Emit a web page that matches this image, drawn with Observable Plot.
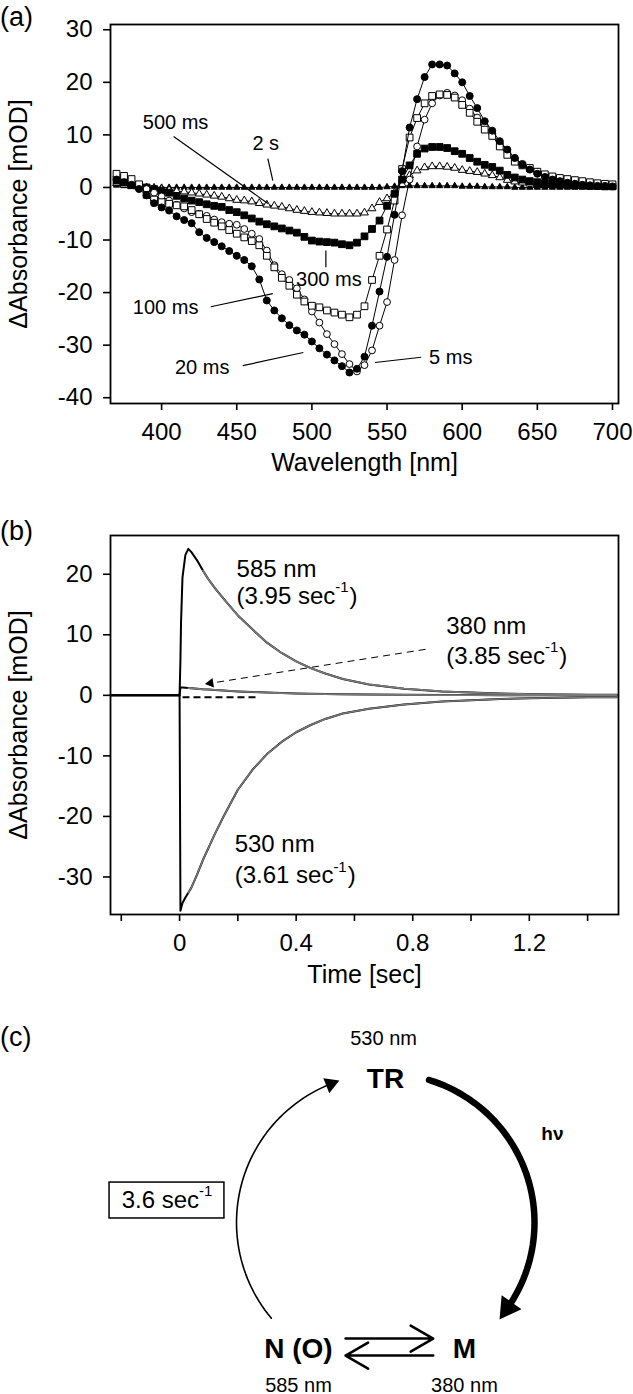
<!DOCTYPE html>
<html><head><meta charset="utf-8">
<script src="https://cdn.jsdelivr.net/npm/d3@7"></script>
<script src="https://cdn.jsdelivr.net/npm/@observablehq/plot@0.6"></script>
<style>
body{margin:0;background:#fff;width:633px;height:1394px;position:relative;overflow:hidden;font-family:"Liberation Sans",Arial,Helvetica,sans-serif;}
.panel{position:absolute;left:0;z-index:1;}
.tag{position:absolute;left:0px;font-size:27px;line-height:27px;z-index:5;}
</style></head><body>
<div id="pa" class="panel" style="top:0px"></div>
<div id="pb" class="panel" style="top:500px"></div>
<div id="pc" class="panel" style="top:1000px"></div>
<div class="tag" style="top:4px">(a)</div>
<div class="tag" style="top:518px">(b)</div>
<div class="tag" style="top:1024px">(c)</div>
<script>
// ---------- Panel (a) data: transient difference spectra ----------
const wavelengths = [370,375,380,385,390,395,400,405,410,415,420,425,430,435,440,445,450,455,460,465,470,475,480,485,490,495,500,505,510,515,520,525,530,535,540,545,550,555,560,565,570,575,580,585,590,595,600,605,610,615,620,625,630,635,640,645,650,655,660,665,670,675,680,685,690,695,700];
const dA_5ms = [2.0,1.6,1.0,0.4,-0.3,-1.0,-1.7,-2.5,-3.3,-4.0,-4.7,-5.0,-5.4,-6.1,-6.6,-6.9,-7.1,-7.9,-8.8,-9.8,-12.0,-14.8,-16.5,-17.6,-19.2,-21.3,-23.6,-25.7,-27.9,-29.8,-31.7,-33.6,-35.0,-33.8,-31.0,-26.3,-21.8,-13.8,-5.3,1.5,7.8,12.9,16.0,17.5,18.0,17.5,16.6,15.0,13.3,11.8,10.2,8.5,7.0,5.6,4.5,3.6,2.9,2.3,1.9,1.5,1.2,1.0,0.8,0.6,0.5,0.4,0.3];
const dA_20ms = [1.5,1.0,0.5,-0.3,-1.5,-3.0,-3.8,-4.4,-5.5,-6.2,-6.8,-8.5,-9.6,-10.4,-11.2,-12.1,-13.0,-13.8,-15.0,-17.5,-21.5,-23.4,-24.9,-26.2,-27.2,-28.0,-29.3,-30.6,-31.8,-32.9,-34.0,-35.2,-34.5,-32.2,-26.3,-19.8,-13.2,-5.2,3.1,11.4,16.8,21.0,23.4,23.4,23.2,21.7,20.0,17.4,15.1,12.6,10.8,8.8,7.2,5.6,4.3,3.4,2.6,2.0,1.5,1.2,0.9,0.7,0.5,0.4,0.3,0.3,0.2];
const dA_100ms = [2.6,2.2,1.6,0.6,-1.4,-2.3,-2.8,-3.1,-3.4,-3.6,-4.3,-5.1,-6.0,-6.7,-7.4,-8.1,-8.8,-9.5,-10.2,-11.0,-13.0,-15.2,-17.2,-18.7,-20.4,-21.7,-22.5,-22.8,-23.4,-23.8,-24.2,-24.7,-24.2,-22.6,-17.6,-13.0,-8.0,-2.5,3.5,9.5,13.2,16.0,17.4,17.7,17.6,17.1,15.7,14.2,12.5,11.0,9.8,7.8,6.2,4.9,4.2,3.7,3.0,2.5,2.1,1.8,1.6,1.4,1.2,1.0,0.8,0.7,0.6];
const dA_300ms = [1.3,1.0,0.5,0.2,0.0,-0.3,-0.6,-1.0,-1.6,-2.1,-2.5,-2.8,-3.2,-3.5,-3.7,-4.3,-4.7,-5.3,-5.9,-6.5,-7.0,-7.4,-7.8,-8.2,-8.6,-9.4,-10.1,-10.3,-10.4,-10.5,-10.8,-11.0,-10.5,-9.3,-7.9,-6.3,-3.5,-1.2,1.5,4.2,6.4,7.4,7.7,7.7,7.5,6.9,6.4,5.6,4.9,4.3,3.9,3.2,2.4,1.9,1.5,1.2,1.0,0.8,0.7,0.6,0.5,0.4,0.4,0.3,0.3,0.2,0.2];
const dA_500ms = [0.8,0.5,0.2,0.0,0.0,-0.1,-0.3,-0.5,-0.7,-0.8,-1.0,-1.2,-1.4,-1.6,-1.8,-2.1,-2.4,-2.5,-2.7,-3.0,-3.3,-3.5,-3.7,-4.0,-4.3,-4.5,-4.7,-4.8,-4.9,-5.0,-5.0,-5.0,-5.0,-4.8,-4.0,-2.8,-2.1,-1.0,0.6,2.3,3.2,3.8,4.0,4.0,3.9,3.7,3.3,3.1,2.9,2.6,2.3,1.9,1.4,1.1,0.9,0.7,0.6,0.5,0.4,0.35,0.3,0.3,0.25,0.2,0.2,0.2,0.2];
const dA_2s = [0.4,0.3,0.2,0.1,0,0,0,0,0,0,0,0,0,0,0,0,0,0,0,0,0,0,0,0,0,0,0,0,0,0,0,0,0,0,0,0,0.1,0.2,0.3,0.3,0.3,0.3,0.3,0.3,0.3,0.3,0.2,0.2,0.2,0.1,0.1,0.1,0.1,0,0,0,0,0,0,0,0,0,0,0,0,0,0];
const seriesNames = ["2 s","500 ms","300 ms","5 ms","100 ms","20 ms"];
const seriesValues = [dA_2s, dA_500ms, dA_300ms, dA_5ms, dA_100ms, dA_20ms];
const xTicksA = [400,450,500,550,600,650,700];
const yTicksA = [-40,-30,-20,-10,0,10,20,30];
// annotation labels of panel (a)
const annLabels = ["500 ms","2 s","300 ms","100 ms","20 ms","5 ms"];
const annTextX = [409.3,469.3,511.3,402.7,427,592.4];
const annTextY = [12.4,8.4,-17.5,-22.9,-34.2,-32.3];
const annX1 = [408,470.7,509.3,432.7,454,542];
const annY1 = [9.7,5.5,-12.0,-22.7,-33.9,-33.3];
const annX2 = [470.7,474,509.3,474,494.3,572.7];
const annY2 = [-3.05,1.3,-15.2,-20.2,-31.4,-32.3];

// ---------- Panel (b) data: kinetic traces ----------
const timeSec = [-0.237,-0.2,-0.15,-0.1,-0.05,0,0.003,0.005,0.01,0.02,0.03,0.04,0.06,0.08,0.1,0.12,0.15,0.2,0.25,0.3,0.35,0.4,0.45,0.5,0.56,0.65,0.77,0.9,1.0,1.1,1.2,1.3,1.4,1.5];
const trace585 = [0,0,0,0,0,0,6,12,19.5,23.2,24.2,23.7,22.3,20.6,19.1,17.8,16.0,13.2,10.9,8.7,7.0,5.6,4.5,3.6,2.7,1.8,1.1,0.65,0.45,0.3,0.2,0.15,0.1,0.1];
const trace530 = [0,0,0,0,0,0,-35.6,-35.2,-34.3,-33.4,-32.6,-31.8,-29.6,-27.2,-25.1,-23.0,-20.1,-15.6,-12.3,-9.7,-7.7,-6.1,-4.9,-3.9,-3.0,-2.2,-1.5,-1.0,-0.8,-0.6,-0.5,-0.4,-0.3,-0.3];
const trace380 = [0,0,0,0,0,0,1.3,1.3,1.3,1.25,1.2,1.15,1.1,1.0,0.95,0.9,0.8,0.65,0.55,0.45,0.37,0.3,0.25,0.2,0.16,0.12,0.08,0.05,0.04,0.03,0.03,0.02,0.02,0.02];
const fitStartIndex = 10;
const xTicksB = [-0.2,0,0.2,0.4,0.6,0.8,1.0,1.2,1.4];
const xLabeledB = [0,0.4,0.8,1.2];
const yTicksB = [-30,-20,-10,0,10,20];
const traceLabels = ["585 nm","380 nm","530 nm"];
const traceRates = ["(3.95 sec","(3.85 sec","(3.61 sec"];
const traceLabelX = [0.1955,0.915,0.189];
const traceLabelY = [20.8,11.4,-24.6];
const traceRateY = [16.4,6.4,-29.8];
const dashBase = {x1:0.01, x2:0.27, y:-0.3};
const arrow380 = {x1:0.844, y1:7.6, x2:0.106, y2:2.0};

// ---------- Panel (c) data: photocycle scheme ----------
const stateNames = ["TR","M","N (O)"];
const stateX = [0,0.53,-0.584];
const stateY = [0.966,-0.846,-0.846];
const stateWl = ["530 nm","380 nm","585 nm"];
const stateWlX = [-0.013,0.53,-0.584];
const stateWlY = [1.235,-1.094,-1.094];
const arcStart = [-130,17];
const arcLineEnd = [-23.4,122.3];
const arcHead = [-21.6,125];
const rateText = "3.6 sec";
const rateBox = {x1:-1.852, x2:-1.081, y1:0.027, y2:0.268};
const hvPos = {x:1.12, y:0.597};
const eqX1 = [-0.268,0.32];
const eqX2 = [0.32,-0.268];
const eqY = [-0.779,-0.893];

// ---------- helpers ----------
const FONT = '"Liberation Sans", Arial, Helvetica, sans-serif';
const ctx = document.createElement("canvas").getContext("2d");
function tw(s, size, weight) { ctx.font = `${weight||"normal"} ${size}px ${FONT}`; return ctx.measureText(s).width; }
const baseStyle = {fontFamily: FONT, fontSize: "24px", color: "black", background: "transparent", overflow: "visible"};

// ---------- Panel (a) ----------
{
  const symbols = {"2 s":"triangle","500 ms":"triangle","300 ms":"square","5 ms":"circle","100 ms":"square","20 ms":"circle"};
  const fills = {"2 s":"black","500 ms":"white","300 ms":"black","5 ms":"white","100 ms":"white","20 ms":"black"};
  const radii = {"2 s":2.3,"500 ms":2.9,"300 ms":3.8,"5 ms":3.4,"100 ms":3.8,"20 ms":3.5};
  const rows = [];
  seriesNames.forEach((name,i)=>wavelengths.forEach((w,j)=>rows.push({series:name, wl:w, dA:seriesValues[i][j]})));
  const marks = [
    Plot.axisX(xTicksA, {tickSize:7, tickPadding:12, strokeWidth:1.6, label:null, tickFormat:d=>String(d)}),
    Plot.axisY(yTicksA, {tickSize:7, tickPadding:11, strokeWidth:1.6, label:null, tickFormat:d=>String(d)}),
  ];
  seriesNames.forEach(name=>{
    const r = rows.filter(d=>d.series===name);
    marks.push(Plot.line(r,{x:"wl",y:"dA",stroke:"black",strokeWidth:1}));
    marks.push(Plot.dot(r,{x:"wl",y:"dA",symbol:symbols[name],r:radii[name],fill:fills[name],stroke:"black",strokeWidth:1}));
  });
  const ann = annLabels.map((t,i)=>({t, tx:annTextX[i], ty:annTextY[i], x1:annX1[i], y1:annY1[i], x2:annX2[i], y2:annY2[i]}));
  marks.push(Plot.link(ann,{x1:"x1",y1:"y1",x2:"x2",y2:"y2",stroke:"black",strokeWidth:1.2}));
  marks.push(Plot.text(ann,{x:"tx",y:"ty",text:"t",fontSize:20,fill:"black"}));
  marks.push(Plot.text(["Wavelength [nm]"],{text:d=>d,frameAnchor:"bottom",dy:67,fontSize:25,fill:"black"}));
  marks.push(Plot.text(["ΔAbsorbance [mOD]"],{text:d=>d,frameAnchor:"left",textAnchor:"middle",rotate:-90,dx:-92,fontSize:25,fill:"black"}));
  marks.push(Plot.frame({stroke:"black",strokeWidth:1.8}));
  const p = Plot.plot({
    width:633, height:490, marginLeft:110, marginRight:15, marginTop:24, marginBottom:87,
    x:{domain:[366,704]}, y:{domain:[-41.1,31]},
    style: baseStyle, marks
  });
  document.getElementById("pa").appendChild(p);
}

// ---------- Panel (b) ----------
{
  const ml=110, mr=15, mt=35, mb=81, W=633, H=495;
  const xDom=[-0.237,1.506], yDom=[-36.2,26.4];
  const rows = timeSec.map((t,i)=>({t, a585:trace585[i], a530:trace530[i], a380:trace380[i]}));
  const fit = rows.slice(fitStartIndex);
  const kx = (W-ml-mr)/(xDom[1]-xDom[0]), ky = (H-mt-mb)/(yDom[1]-yDom[0]);
  const rot = Math.atan2((arrow380.x2-arrow380.x1)*kx, (arrow380.y2-arrow380.y1)*ky)*180/Math.PI;
  const marks = [
    Plot.axisX(xTicksB, {tickSize:7, tickPadding:12, strokeWidth:1.6, label:null,
      tickFormat:d=>xLabeledB.some(v=>Math.abs(v-d)<1e-9)?String(d):""}),
    Plot.axisY(yTicksB, {tickSize:7, tickPadding:11, strokeWidth:1.6, label:null, tickFormat:d=>String(d)}),
    Plot.line(rows,{x:"t",y:"a380",stroke:"black",strokeWidth:2.0}),
    Plot.line(rows,{x:"t",y:"a585",stroke:"black",strokeWidth:2.0}),
    Plot.line(rows,{x:"t",y:"a530",stroke:"black",strokeWidth:2.0}),
    Plot.line(fit,{x:"t",y:"a380",stroke:"#7a7a7a",strokeWidth:1.7}),
    Plot.line(fit.slice(3),{x:"t",y:"a585",stroke:"#7a7a7a",strokeWidth:1.7}),
    Plot.line(fit,{x:"t",y:"a530",stroke:"#7a7a7a",strokeWidth:1.5}),
    Plot.link([dashBase],{x1:"x1",x2:"x2",y1:"y",y2:"y",stroke:"black",strokeWidth:2,strokeDasharray:"7,4"}),
    Plot.link([arrow380],{x1:"x1",y1:"y1",x2:"x2",y2:"y2",stroke:"black",strokeWidth:1,strokeDasharray:"7,5"}),
    Plot.dot([arrow380],{x:"x2",y:"y2",symbol:"triangle",r:3.6,rotate:rot,fill:"black",stroke:"none"}),
  ];
  const lab = traceLabels.map((l,i)=>({l, r:traceRates[i], x:traceLabelX[i], y:traceLabelY[i], yr:traceRateY[i]}));
  marks.push(Plot.text(lab,{x:"x",y:"y",text:"l",textAnchor:"start",fontSize:24,fill:"black"}));
  lab.forEach(d=>{
    const w1 = tw(d.r,24), ws = tw("-1",15);
    marks.push(Plot.text([d],{x:"x",y:"yr",text:"r",textAnchor:"start",fontSize:24,fill:"black"}));
    marks.push(Plot.text([d],{x:"x",y:"yr",text:()=>"-1",textAnchor:"start",fontSize:15,dx:w1,dy:-9,fill:"black"}));
    marks.push(Plot.text([d],{x:"x",y:"yr",text:()=>")",textAnchor:"start",fontSize:24,dx:w1+ws+1,fill:"black"}));
  });
  marks.push(Plot.text(["Time [sec]"],{text:d=>d,frameAnchor:"bottom",dy:68,fontSize:25,fill:"black"}));
  marks.push(Plot.text(["ΔAbsorbance [mOD]"],{text:d=>d,frameAnchor:"left",textAnchor:"middle",rotate:-90,dx:-92,fontSize:25,fill:"black"}));
  marks.push(Plot.frame({stroke:"black",strokeWidth:1.8}));
  const p = Plot.plot({
    width:W, height:H, marginLeft:ml, marginRight:mr, marginTop:mt, marginBottom:mb,
    x:{domain:xDom}, y:{domain:yDom},
    style: baseStyle, marks
  });
  document.getElementById("pb").appendChild(p);
}

// ---------- Panel (c) ----------
{
  const rad = Math.PI/180;
  const arcs = arcStart.map((s,i)=>{
    const pts=[]; const e=arcLineEnd[i]; const n=Math.ceil(Math.abs(e-s)/2);
    for(let k=0;k<=n;k++){const a=(s+(e-s)*k/n)*rad; pts.push({arc:i,x:Math.sin(a),y:Math.cos(a)});}
    return pts;
  });
  const heads = arcHead.map((a,i)=>({x:Math.sin(a*rad), y:Math.cos(a*rad), rot:a+90}));
  const states = stateNames.map((n,i)=>({n, x:stateX[i], y:stateY[i], wl:stateWl[i], wx:stateWlX[i], wy:stateWlY[i]}));
  const eq = eqX1.map((x1,i)=>({x1, x2:eqX2[i], y:eqY[i]}));
  const w1 = tw(rateText,24), ws = tw("-1",15), wt = w1+ws;
  const cx = (rateBox.x1+rateBox.x2)/2, cy = (rateBox.y1+rateBox.y2)/2;
  const marks = [
    Plot.line(arcs[0],{x:"x",y:"y",stroke:"black",strokeWidth:1.6}),
    Plot.line(arcs[1],{x:"x",y:"y",stroke:"black",strokeWidth:6.5}),
    Plot.dot([heads[0]],{x:"x",y:"y",symbol:"triangle",r:6,rotate:heads[0].rot,fill:"black",stroke:"none"}),
    Plot.dot([heads[1]],{x:"x",y:"y",symbol:"triangle",r:9,rotate:heads[1].rot,fill:"black",stroke:"none"}),
    Plot.arrow(eq,{x1:"x1",x2:"x2",y1:"y",y2:"y",stroke:"black",strokeWidth:2.6,headLength:15}),
    Plot.text(states,{x:"x",y:"y",text:"n",fontSize:28,fontWeight:"bold",fill:"black"}),
    Plot.text(states,{x:"wx",y:"wy",text:"wl",fontSize:20,fill:"black"}),
    Plot.text([hvPos],{x:"x",y:"y",text:()=>"hν",fontSize:19,fontWeight:"bold",fill:"black"}),
    Plot.rect([rateBox],{x1:"x1",x2:"x2",y1:"y1",y2:"y2",fill:"none",stroke:"black",strokeWidth:1.5}),
    Plot.text([{x:cx,y:cy}],{x:"x",y:"y",text:()=>rateText,textAnchor:"start",dx:-wt/2,fontSize:24,fill:"black"}),
    Plot.text([{x:cx,y:cy}],{x:"x",y:"y",text:()=>"-1",textAnchor:"start",dx:-wt/2+w1,dy:-9,fontSize:15,fill:"black"}),
  ];
  const p = Plot.plot({
    width:633, height:394, margin:0,
    x:{domain:[-2.5839,1.6644], axis:null}, y:{domain:[-1.1544,1.4899], axis:null},
    style: baseStyle, marks
  });
  document.getElementById("pc").appendChild(p);
}
</script>
</body></html>
